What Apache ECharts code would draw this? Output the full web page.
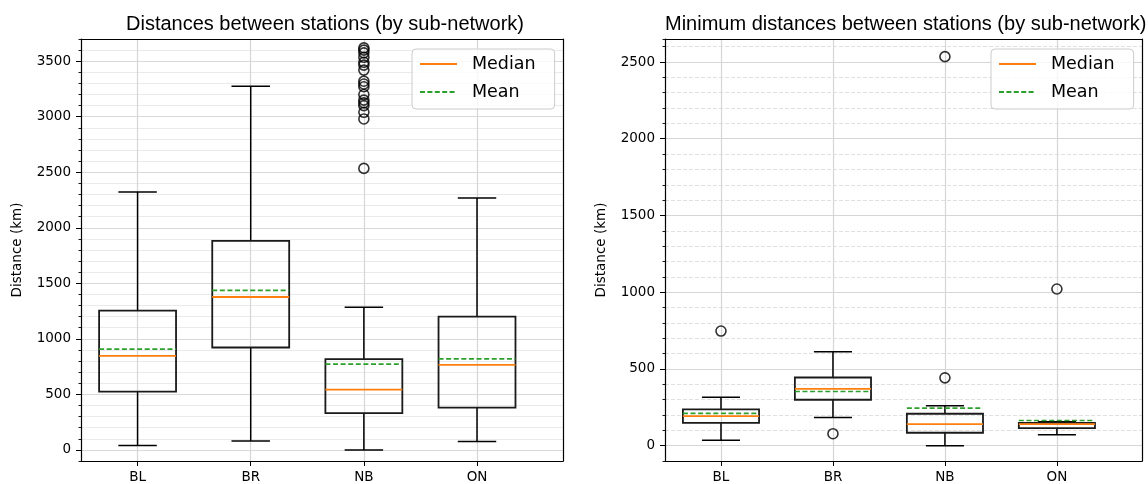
<!DOCTYPE html>
<html>
<head>
<meta charset="utf-8">
<script src="https://cdn.jsdelivr.net/npm/echarts@6/dist/echarts.min.js"></script>
<style>
  html, body { margin: 0; padding: 0; background: #ffffff; }
  #chart { width: 1148px; height: 484px; }
</style>
</head>
<body>
<div id="chart"></div>
<script>
// Sub-networks and their box positions on the x axis
const categories = ['BL', 'BR', 'NB', 'ON'];
const positions = [1, 2, 3, 4];

// All pairwise distances between stations (km)
const distWhiskerLow  = [39, 81, 0, 75];
const distQ1          = [524, 922, 332, 380];
const distMedian      = [847, 1377, 542, 766];
const distQ3          = [1254, 1883, 817, 1200];
const distWhiskerHigh = [2323, 3275, 1284, 2269];
const distMean        = [907, 1437, 772, 820];
const distOutliers    = [
  [],
  [],
  [2535, 2980, 3040, 3100, 3125, 3150, 3200, 3270, 3295, 3320, 3420, 3465, 3490, 3535, 3575, 3600, 3620],
  []
];

// Minimum distance from each station to its nearest neighbour (km)
const minWhiskerLow  = [36, 184, 0, 71];
const minQ1          = [149, 299, 84, 114];
const minMedian      = [192, 370, 140, 140];
const minQ3          = [236, 444, 208, 149];
const minWhiskerHigh = [316, 612, 260, 156];
const minMean        = [210, 353, 244, 164];
const minOutliers    = [[747], [78], [442, 2535], [1021]];

// Labelled y ticks
const distTicks = [0, 500, 1000, 1500, 2000, 2500, 3000, 3500];
const minTicks  = [0, 500, 1000, 1500, 2000, 2500];

// ---- styling ----
const FONT = 'DejaVu Sans';
const TITLE_FONT = 'Liberation Sans';
const MEDIAN_COLOR = '#ff7f0e';
const MEAN_COLOR = '#2ca02c';
const BOX_WIDTH = 0.68;          // in x-axis units
const LW = 1.5;
const X_MIN = 0.5, X_MAX = 4.76;
const MINOR_STEP = 100;
const CLEAR = 'rgba(0,0,0,0)';

const grids = [
  { left: 81,  top: 39, width: 482, height: 422 },
  { left: 665, top: 39, width: 477, height: 422 }
];

// The value-axis ticks ECharts produces for a fixed min/max and interval
function scaleTicks(min, max, step) {
  const out = [];
  for (let v = min; v < max - 1e-9; v += step) out.push(v);
  out.push(max);
  return out;
}

function boxRows(lo, q1, med, q3, hi, mean) {
  return positions.map((p, i) => [p, lo[i], q1[i], med[i], q3[i], hi[i], mean[i]]);
}

function outlierPoints(list) {
  const pts = [];
  list.forEach((vals, i) => vals.forEach(v => pts.push([positions[i], v])));
  return pts;
}

function renderBox(params, api) {
  const x = api.value(0);
  const pLo = api.coord([x, api.value(1)]);
  const pQ1 = api.coord([x, api.value(2)]);
  const pMed = api.coord([x, api.value(3)]);
  const pQ3 = api.coord([x, api.value(4)]);
  const pHi = api.coord([x, api.value(5)]);
  const pMean = api.coord([x, api.value(6)]);
  const half = api.size([BOX_WIDTH, 0])[0] / 2;
  const cap = half / 2;
  const cx = pLo[0];
  const black = { stroke: '#000', lineWidth: LW, fill: null };
  const hline = (y, w, style) => ({ type: 'line', shape: { x1: cx - w, y1: y, x2: cx + w, y2: y }, style });
  return {
    type: 'group',
    children: [
      { type: 'line', shape: { x1: cx, y1: pQ1[1], x2: cx, y2: pLo[1] }, style: black },
      { type: 'line', shape: { x1: cx, y1: pQ3[1], x2: cx, y2: pHi[1] }, style: black },
      hline(pLo[1], cap, black),
      hline(pHi[1], cap, black),
      { type: 'rect', shape: { x: cx - half, y: pQ3[1], width: 2 * half, height: pQ1[1] - pQ3[1] },
        style: { stroke: '#1a1a1a', fill: 'none', lineWidth: 1.8 } },
      hline(pMed[1], half, { stroke: MEDIAN_COLOR, lineWidth: 1.8 }),
      hline(pMean[1], half, { stroke: MEAN_COLOR, lineWidth: 1.7, lineDash: [5, 2.6] })
    ]
  };
}

const axisText = { fontFamily: FONT, fontSize: 13.5, color: '#000' };
const frameLine = { show: true, onZero: false, lineStyle: { color: '#000', width: 1.2 } };

function mainX(gridIndex) {
  return {
    type: 'value', gridIndex, min: X_MIN, max: X_MAX, splitNumber: 4, position: 'bottom',
    axisLine: frameLine,
    axisTick: { show: true, length: 5, customValues: positions, lineStyle: { color: '#000', width: 1 } },
    axisLabel: {
      ...axisText, margin: 9, customValues: positions,
      formatter: v => { const i = positions.indexOf(v); return i >= 0 ? categories[i] : ''; }
    },
    splitLine: { show: true, lineStyle: { color: '#d6d6d6', width: 1.2 } }
  };
}

function frameX(gridIndex) {
  return {
    type: 'value', gridIndex, min: X_MIN, max: X_MAX, position: 'top', z: 5,
    axisLine: frameLine,
    axisTick: { show: false }, axisLabel: { show: false }, splitLine: { show: false }
  };
}

function labelY(gridIndex, min, max, ticks, nameGap) {
  return {
    type: 'value', gridIndex, min, max, interval: MINOR_STEP, position: 'left', z: 5,
    name: 'Distance (km)', nameLocation: 'middle', nameGap,
    nameTextStyle: { fontFamily: FONT, fontSize: 13.5, color: '#000' },
    axisLine: frameLine,
    axisTick: { show: true, length: 5, customValues: ticks, lineStyle: { color: '#000', width: 1 } },
    axisLabel: {
      ...axisText, margin: 10, customValues: ticks,
      formatter: v => (ticks.indexOf(v) >= 0 ? String(v) : '')
    },
    splitLine: { show: false }
  };
}

function gridY(gridIndex, min, max, colorOf, lineType, showTicks) {
  const colors = scaleTicks(min, max, MINOR_STEP).map(v => (v === min || v === max) ? CLEAR : colorOf(v));
  return {
    type: 'value', gridIndex, min, max, interval: MINOR_STEP, position: 'left',
    axisLine: { show: false, onZero: false },
    axisTick: { show: showTicks, length: 2.5, lineStyle: { color: '#000', width: 0.9 } },
    axisLabel: { show: false },
    splitLine: { show: true, lineStyle: { color: colors, width: lineType === 'dashed' ? 1 : 1.2, type: lineType } }
  };
}

function frameY(gridIndex, min, max) {
  return {
    type: 'value', gridIndex, min, max, position: 'right', z: 5,
    axisLine: frameLine,
    axisTick: { show: false }, axisLabel: { show: false }, splitLine: { show: false }
  };
}

const D_MIN = -100, D_MAX = 3700;
const M_MIN = -100, M_MAX = 2650;

const xAxes = [mainX(0), frameX(0), mainX(1), frameX(1)];
const yAxes = [
  // left panel
  labelY(0, D_MIN, D_MAX, distTicks, 57),                                            // 0
  gridY(0, D_MIN, D_MAX, v => (v % 500 === 0 ? '#d9d9d9' : '#eaeaea'), 'solid', true), // 1
  frameY(0, D_MIN, D_MAX),                                                           // 2
  // right panel
  labelY(1, M_MIN, M_MAX, minTicks, 57),                                             // 3
  gridY(1, M_MIN, M_MAX, v => (v % 500 === 0 ? CLEAR : '#e0e0e0'), 'dashed', true),    // 4
  gridY(1, M_MIN, M_MAX, v => (v % 500 === 0 ? '#d6d6d6' : CLEAR), 'solid', false),    // 5
  frameY(1, M_MIN, M_MAX)                                                            // 6
];

function boxSeries(xIdx, yIdx, rows) {
  return {
    type: 'custom', xAxisIndex: xIdx, yAxisIndex: yIdx, z: 3,
    renderItem: renderBox,
    encode: { x: 0, y: [1, 2, 3, 4, 5, 6] },
    data: rows
  };
}

function flierSeries(xIdx, yIdx, pts) {
  return {
    type: 'scatter', xAxisIndex: xIdx, yAxisIndex: yIdx, z: 4,
    symbol: 'circle', symbolSize: 10,
    itemStyle: { color: CLEAR, borderColor: '#000', borderWidth: 1.6 },
    emphasis: { disabled: true },
    data: pts
  };
}

const legendBase = {
  orient: 'vertical', top: 49,
  padding: [5, 19, 7, 7],
  itemWidth: 37, itemHeight: 14, itemGap: 8,
  backgroundColor: 'rgba(255,255,255,0.8)',
  borderColor: '#cccccc', borderWidth: 1, borderRadius: 4,
  itemStyle: { opacity: 0 },
  textStyle: { fontFamily: FONT, fontSize: 17.5, color: '#000', lineHeight: 20, padding: [0, 0, 0, 10] },
  data: ['Median', 'Mean'],
  selectedMode: false
};

const option = {
  animation: false,
  backgroundColor: '#ffffff',
  title: [
    { text: 'Distances between stations (by sub-network)', left: 126, top: 14, padding: 0,
      textStyle: { fontFamily: TITLE_FONT, fontSize: 20, fontWeight: 'normal', color: '#000' } },
    { text: 'Minimum distances between stations (by sub-network)', left: 665, top: 14, padding: 0,
      textStyle: { fontFamily: TITLE_FONT, fontSize: 20, fontWeight: 'normal', color: '#000' } }
  ],
  legend: [
    { ...legendBase, left: 412 },
    { ...legendBase, left: 991 }
  ],
  grid: grids,
  xAxis: xAxes,
  yAxis: yAxes,
  series: [
    boxSeries(0, 0, boxRows(distWhiskerLow, distQ1, distMedian, distQ3, distWhiskerHigh, distMean)),
    flierSeries(0, 0, outlierPoints(distOutliers)),
    boxSeries(2, 3, boxRows(minWhiskerLow, minQ1, minMedian, minQ3, minWhiskerHigh, minMean)),
    flierSeries(2, 3, outlierPoints(minOutliers)),
    { name: 'Median', type: 'line', xAxisIndex: 0, yAxisIndex: 0, data: [], symbol: 'none',
      color: MEDIAN_COLOR, lineStyle: { color: MEDIAN_COLOR, width: 1.5 } },
    { name: 'Mean', type: 'line', xAxisIndex: 0, yAxisIndex: 0, data: [], symbol: 'none',
      color: MEAN_COLOR, lineStyle: { color: MEAN_COLOR, width: 1.5, type: [5, 2.4] } }
  ]
};

const chart = echarts.init(document.getElementById('chart'), null, { renderer: 'canvas' });
chart.setOption(option);
</script>
</body>
</html>
